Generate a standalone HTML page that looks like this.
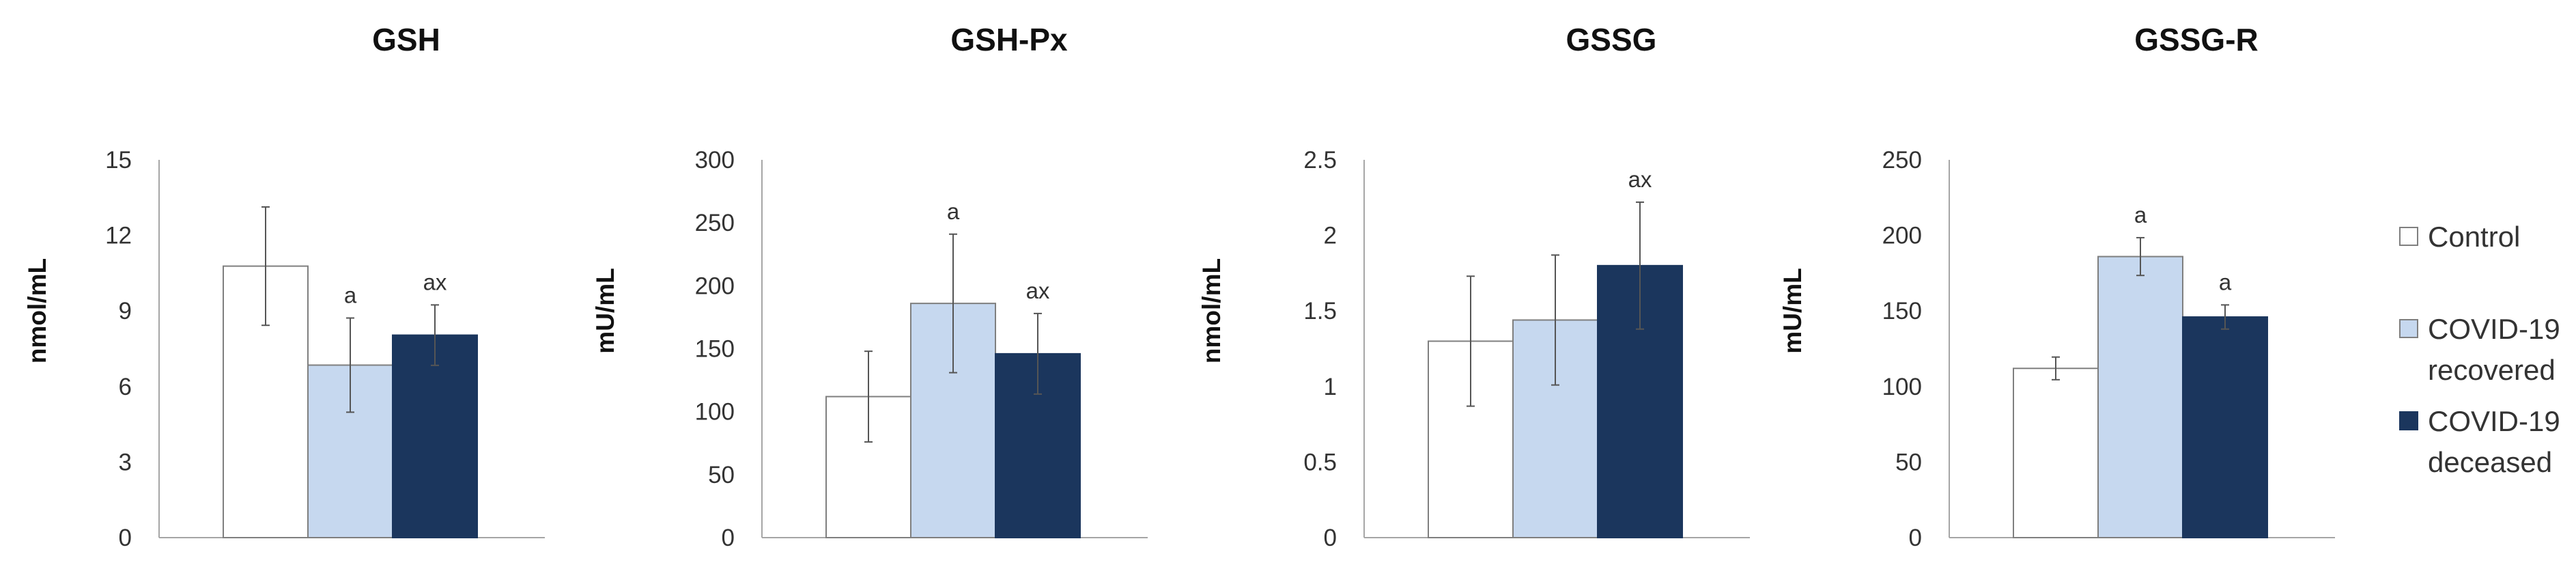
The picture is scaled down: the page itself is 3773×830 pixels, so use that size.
<!DOCTYPE html>
<html><head><meta charset="utf-8"><style>
html,body{margin:0;padding:0;background:#fff;}
svg{display:block;font-family:"Liberation Sans",sans-serif;}
</style></head><body>
<svg id="fig" width="3773" height="830" viewBox="0 0 3773 830" xmlns="http://www.w3.org/2000/svg"></svg>
<script>
const groups = ["Control","COVID-19 recovered","COVID-19 deceased"];
const titles = ["GSH","GSH-Px","GSSG","GSSG-R"];
const units = ["nmol/mL","mU/mL","nmol/mL","mU/mL"];
const yMax = [15,300,2.5,250];
const tickLabels = [["0","3","6","9","12","15"],["0","50","100","150","200","250","300"],["0","0.5","1","1.5","2","2.5"],["0","50","100","150","200","250"]];
const gshValues = [10.78,6.85,8.04];
const gshErr = [2.35,1.87,1.2];
const gshpxValues = [112,186,146];
const gshpxErr = [36,55,32];
const gssgValues = [1.30,1.44,1.80];
const gssgErr = [0.43,0.43,0.42];
const gssgrValues = [112,186,146];
const gssgrErr = [7.5,12.5,8];
const sigLabels = [["","a","ax"],["","a","ax"],["","","ax"],["","a","a"]];
const allValues = [gshValues,gshpxValues,gssgValues,gssgrValues];
const allErr = [gshErr,gshpxErr,gssgErr,gssgrErr];

const fills = ["#ffffff","#c6d8ef","#1b365d"];
const axisX = [233,1116,1998,2855];
const ylabelX = [54,886,1774,2625];
const topY = 234, baseY = 787, barW = 124, barOff = 94, axisLen = 565;
const svg = document.getElementById('fig');
const NS = "http://www.w3.org/2000/svg";
function mk(tag, attrs, parent){const e=document.createElementNS(NS,tag);for(const k in attrs)e.setAttribute(k,attrs[k]);(parent||svg).appendChild(e);return e;}

for(let c=0;c<4;c++){
  const g = mk('g',{});
  
  
  const ax = axisX[c];
  const y = v => baseY - v/yMax[c]*(baseY-topY);
  const t = mk('text',{x:ax+362,y:74,'text-anchor':'middle','font-size':46,'font-weight':'bold',fill:'#111'},g);
  t.textContent = titles[c];
  
  
  const yl = mk('text',{x:0,y:0,transform:`translate(${ylabelX[c]+13},455) rotate(-90)`,'text-anchor':'middle','font-size':37,'font-weight':'bold',fill:'#111'},g);
  yl.textContent = units[c];
  
  
  const yax = mk('line',{x1:ax,y1:topY,x2:ax,y2:baseY,stroke:'#a6a6a6','stroke-width':2},g);
  
  
  const xax = mk('line',{x1:ax,y1:baseY,x2:ax+axisLen,y2:baseY,stroke:'#a6a6a6','stroke-width':2},g);
  
  
  const labs = tickLabels[c];
  for(let i=0;i<labs.length;i++){
    const v = yMax[c]*i/(labs.length-1);
    const tl = mk('text',{x:ax-40,y:y(v)+12,'text-anchor':'end','font-size':35,fill:'#333'},g);
    tl.textContent = labs[i];
    
    
  }
  for(let b=0;b<3;b++){
    const v = allValues[c][b], e = allErr[c][b];
    const x = ax + barOff + b*barW;
    const r = mk('rect',{x:x,y:y(v),width:barW,height:baseY-y(v),fill:fills[b],stroke:b<2?'#7f7f7f':'#1b365d','stroke-width':2},g);
    
    
    const cx = x + barW/2;
    const eg = mk('g',{stroke:'#555','stroke-width':2},g);
    
    
    mk('line',{x1:cx,y1:y(v+e),x2:cx,y2:y(v-e)},eg);
    mk('line',{x1:cx-6,y1:y(v+e),x2:cx+6,y2:y(v+e)},eg);
    mk('line',{x1:cx-6,y1:y(v-e),x2:cx+6,y2:y(v-e)},eg);
    if(sigLabels[c][b]){
      const s = mk('text',{x:cx,y:y(v+e)-22,'text-anchor':'middle','font-size':33,fill:'#333'},g);
      s.textContent = sigLabels[c][b];
      
      
    }
  }
}
// legend
const leg = mk('g',{});


const legBoxY = [333,468,603];
const legLines = [["Control"],["COVID-19","recovered"],["COVID-19","deceased"]];
for(let i=0;i<3;i++){
  const e = mk('g',{},leg);
  
  
  mk('rect',{x:3515,y:legBoxY[i],width:26,height:26,fill:fills[i],stroke:i<2?'#7f7f7f':'#1b365d','stroke-width':2},e);
  legLines[i].forEach((l,j)=>{
    const t = mk('text',{x:3556,y:legBoxY[i]+28+j*60,'font-size':42,fill:'#333'},e);
    t.textContent = l;
  });
}
</script>
</body></html>
